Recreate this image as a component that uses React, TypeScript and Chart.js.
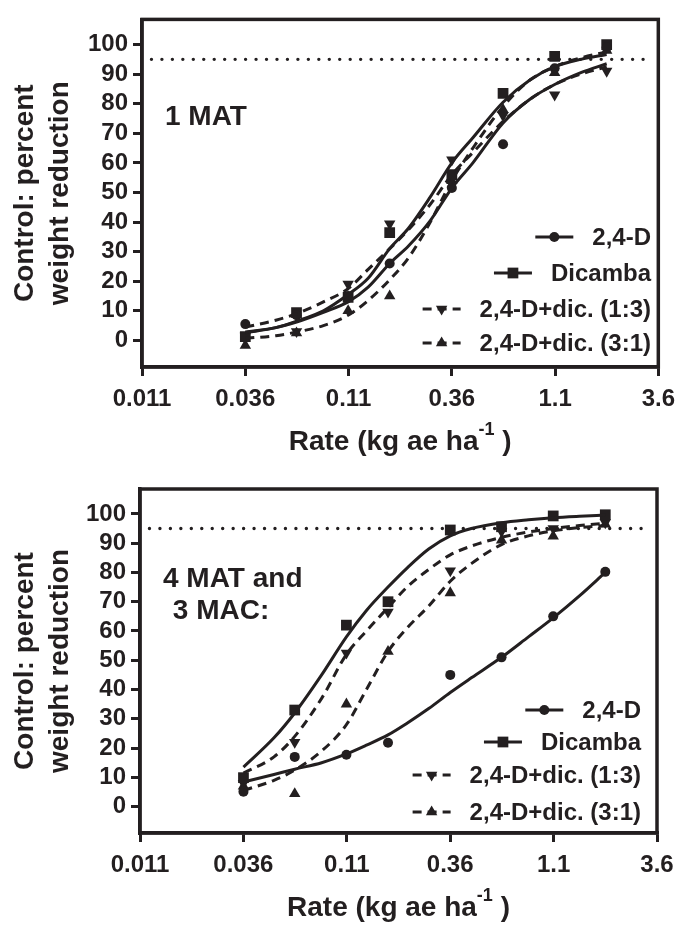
import React, { useEffect, useRef } from 'react';
import { Chart, registerables } from 'chart.js';

Chart.register(...registerables);

const INK = '#231f20';
const FONT = '"Liberation Sans", Arial, Helvetica, sans-serif';

// ---- shared categories / ticks ----
const rates = [0.0356, 0.063, 0.112, 0.178, 0.356, 0.63, 1.12, 2.0];
const curveRates = [0.0356, 0.05, 0.063, 0.085, 0.112, 0.14, 0.178, 0.22, 0.28, 0.356, 0.45, 0.63, 0.85, 1.12, 1.5, 2.0];
const xTickValues = [0.01125, 0.03557, 0.1125, 0.3557, 1.125, 3.557];
const xTickLabels = ['0.011', '0.036', '0.11', '0.36', '1.1', '3.6'];
const yTickValues = [0, 10, 20, 30, 40, 50, 60, 70, 80, 90, 100];
const seriesNames = ['2,4-D', 'Dicamba', '2,4-D+dic. (1:3)', '2,4-D+dic. (3:1)'];
const thresholdX = [0.0125, 3.2];
const thresholdY = [95, 95];
const yTitleLines = ['Control: percent', 'weight reduction'];
const xTitleMain = 'Rate (kg ae ha';
const xTitleSup = '-1';
const xTitleEnd = ' )';

// ---- panel 1: 1 MAT ----
const p1Label = ['1 MAT'];
const p1Pts24D = [5.5, 8.5, 15, 26, 51.5, 66.3, 92, 99];
const p1PtsDic = [1.3, 9.4, 14.5, 36.4, 56, 83.5, 96, 100];
const p1Pts13 = [1.5, 3, 19, 39.4, 61, 76, 83, 91];
const p1Pts31 = [-1.7, 2.5, 10, 15, 54, 78, 90.5, 98];
const p1Fit24D = [2.8, 4.3, 6.2, 9.5, 13, 18, 26, 32, 40.5, 51.5, 60, 73.5, 81.5, 86.5, 90.5, 93.5];
const p1FitDic = [2.6, 4.3, 6.5, 10, 15.5, 21, 31, 38, 48.5, 60, 68.5, 80.5, 88, 92.5, 95, 96.6];
const p1Fit13 = [4.5, 6.8, 9, 13, 17.5, 24, 31, 37.5, 46, 56, 63.5, 74, 81.5, 86.5, 90, 92.5];
const p1Fit31 = [0.7, 1.6, 2.8, 5, 8.5, 13.5, 20.5, 28, 40, 54, 65, 79, 88, 92.5, 95.5, 97.5];

// ---- panel 2: 4 MAT and 3 MAC ----
const p2Label = ['4 MAT and', ' 3 MAC:'];
const p2Pts24D = [5.1, 17, 17.7, 21.8, 45, 51, 65, 80.2];
const p2PtsDic = [9.9, 33, 62, 70, 94.5, 95.6, 99.3, 99.7];
const p2Pts13 = [8, 22, 52.5, 66.5, 80.6, 94, 95, 97];
const p2Pts31 = [7, 4.4, 35, 53, 73, 91, 92.4, 96.5];
const p2Fit24D = [8.4, 11, 12.8, 15, 18, 21, 24.5, 28.5, 33.5, 39, 44, 51, 58, 64.5, 72, 80];
const p2FitDic = [13.5, 23.5, 32, 45, 58, 67, 75, 81.5, 88, 92.5, 95, 97, 98, 98.7, 99.2, 99.6];
const p2Fit13 = [11.5, 17, 24, 37, 52, 60, 68, 75, 81, 86, 89, 92, 93.8, 95, 96, 96.8];
const p2Fit31 = [5.5, 9, 12.5, 19, 28, 40, 53, 61, 68.5, 77, 83, 89.5, 92.5, 94.2, 95.3, 96];

// ---- styling (not data) ----
const W = 684;
const markerStyles = [
  { style: 'circle', radius: 5, rotation: 0 },
  { style: 'rect', radius: 7.6, rotation: 0 },
  { style: 'triangle', radius: 6.6, rotation: 180 },
  { style: 'triangle', radius: 6.6, rotation: 0 },
];
const lineDashes = [[], [], [9, 6], [9, 6]];

type Spec = {
  height: number;
  area: { left: number; top: number; right: number; bottom: number };
  label: string[];
  labelX: number[];
  labelY: number[];
  legendRight: number;
  legendRows: number[];
  pts: number[][];
  fits: number[][];
};

const panels: Spec[] = [
  {
    height: 463,
    area: { left: 142, top: 17, right: 664, bottom: 367 },
    label: p1Label,
    labelX: [165],
    labelY: [125],
    legendRight: 651,
    legendRows: [237, 273, 309, 343],
    pts: [p1Pts24D, p1PtsDic, p1Pts13, p1Pts31],
    fits: [p1Fit24D, p1FitDic, p1Fit13, p1Fit31],
  },
  {
    height: 464,
    area: { left: 140, top: 26, right: 657, bottom: 370 },
    label: p2Label,
    labelX: [163, 165],
    labelY: [124, 156],
    legendRight: 641,
    legendRows: [247, 279, 312, 349],
    pts: [p2Pts24D, p2PtsDic, p2Pts13, p2Pts31],
    fits: [p2Fit24D, p2FitDic, p2Fit13, p2Fit31],
  },
];

function drawMarker(ctx: CanvasRenderingContext2D, style: string, x: number, y: number, r: number, rotation: number) {
  ctx.beginPath();
  if (style === 'circle') {
    ctx.arc(x, y, r, 0, Math.PI * 2);
  } else if (style === 'rect') {
    const s = Math.SQRT1_2 * r;
    ctx.rect(x - s, y - s, 2 * s, 2 * s);
  } else {
    let rad = (rotation * Math.PI) / 180;
    for (let i = 0; i < 3; i++) {
      const px = x + Math.sin(rad) * r;
      const py = y - Math.cos(rad) * r;
      if (i === 0) ctx.moveTo(px, py);
      else ctx.lineTo(px, py);
      rad += (2 * Math.PI) / 3;
    }
    ctx.closePath();
  }
  ctx.fill();
}

function buildConfig(spec: Spec): any {
  const { area, height } = spec;
  const tickFont = { family: FONT, size: 24, weight: 'bold' as const };
  const datasets: any[] = [];

  datasets.push({
    label: 'threshold',
    data: thresholdX.map((x, i) => ({ x, y: thresholdY[i] })),
    borderColor: INK,
    borderWidth: 3.4,
    borderDash: [0.01, 10.45],
    borderCapStyle: 'round',
    pointRadius: 0,
    fill: false,
  });

  spec.fits.forEach((vals, s) => {
    datasets.push({
      label: seriesNames[s] + ' fit',
      data: curveRates.map((x, i) => ({ x, y: vals[i] })),
      borderColor: INK,
      borderWidth: 3,
      borderDash: lineDashes[s],
      pointRadius: 0,
      cubicInterpolationMode: 'monotone',
      fill: false,
    });
  });

  spec.pts.forEach((vals, s) => {
    const m = markerStyles[s];
    datasets.push({
      label: seriesNames[s],
      data: rates.map((x, i) => ({ x, y: vals[i] })),
      showLine: false,
      pointStyle: m.style,
      pointRadius: m.radius,
      pointRotation: m.rotation,
      pointBackgroundColor: INK,
      pointBorderWidth: 0,
      borderColor: INK,
    });
  });

  const decor = {
    id: 'decor',
    afterDraw(chart: any) {
      const ctx: CanvasRenderingContext2D = chart.ctx;
      const ca = chart.chartArea;
      ctx.save();
      // frame
      ctx.strokeStyle = INK;
      ctx.lineWidth = 3.5;
      ctx.strokeRect(ca.left, ca.top, ca.right - ca.left, ca.bottom - ca.top);

      ctx.fillStyle = INK;
      // y title
      const cy = (ca.top + ca.bottom) / 2;
      ctx.font = `bold 28px ${FONT}`;
      ctx.textAlign = 'center';
      ctx.textBaseline = 'alphabetic';
      const yBase = [33, 68];
      yTitleLines.forEach((line, i) => {
        ctx.save();
        ctx.translate(yBase[i], cy);
        ctx.rotate(-Math.PI / 2);
        ctx.fillText(line, 0, 0);
        ctx.restore();
      });

      // x title with superscript
      const mainFont = `bold 28px ${FONT}`;
      const supFont = `bold 18px ${FONT}`;
      ctx.font = mainFont;
      const w1 = ctx.measureText(xTitleMain).width;
      const w3 = ctx.measureText(xTitleEnd).width;
      ctx.font = supFont;
      const w2 = ctx.measureText(xTitleSup).width;
      const total = w1 + w2 + w3;
      let x0 = (ca.left + ca.right) / 2 - total / 2;
      const base = ca.bottom + 83;
      ctx.textAlign = 'left';
      ctx.font = mainFont;
      ctx.fillText(xTitleMain, x0, base);
      ctx.font = supFont;
      ctx.fillText(xTitleSup, x0 + w1, base - 15);
      ctx.font = mainFont;
      ctx.fillText(xTitleEnd, x0 + w1 + w2, base);

      // panel label
      ctx.font = `bold 28px ${FONT}`;
      spec.label.forEach((line, i) => {
        ctx.fillText(line, spec.labelX[i], spec.labelY[i]);
      });

      // legend
      ctx.font = `bold 24px ${FONT}`;
      ctx.textBaseline = 'middle';
      seriesNames.forEach((name, s) => {
        const yRow = spec.legendRows[s];
        const tw = ctx.measureText(name).width;
        const tx = spec.legendRight - tw;
        const sx = tx - 38;
        ctx.fillText(name, tx, yRow + 1);
        ctx.save();
        ctx.lineWidth = 3;
        ctx.setLineDash(lineDashes[s]);
        ctx.beginPath();
        ctx.moveTo(sx - 19, yRow);
        ctx.lineTo(sx + 19, yRow);
        ctx.stroke();
        ctx.restore();
        const m = markerStyles[s];
        drawMarker(ctx, m.style, sx, yRow, m.radius, m.rotation);
      });
      ctx.restore();
    },
  };

  return {
    type: 'line',
    data: { datasets },
    plugins: [decor],
    options: {
      animation: false,
      responsive: false,
      maintainAspectRatio: false,
      parsing: true,
      layout: { padding: { left: 0, top: area.top, right: W - area.right, bottom: 0 } },
      plugins: { legend: { display: false }, tooltip: { enabled: false }, title: { display: false } },
      scales: {
        x: {
          type: 'logarithmic',
          min: xTickValues[0],
          max: xTickValues[xTickValues.length - 1],
          afterBuildTicks: (ax: any) => {
            ax.ticks = xTickValues.map((v) => ({ value: v }));
          },
          afterFit: (ax: any) => {
            ax.height = height - area.bottom;
          },
          ticks: {
            callback: (_v: any, i: number) => xTickLabels[i],
            font: tickFont,
            color: INK,
            padding: 9,
            autoSkip: false,
            maxRotation: 0,
            minRotation: 0,
          },
          grid: { drawOnChartArea: false, tickLength: 9, lineWidth: 3, color: INK },
          border: { display: true, width: 3.5, color: INK },
        },
        y: {
          type: 'linear',
          min: -9,
          max: 108.5,
          afterBuildTicks: (ax: any) => {
            ax.ticks = yTickValues.map((v) => ({ value: v }));
          },
          afterFit: (ax: any) => {
            ax.width = area.left;
          },
          ticks: { font: tickFont, color: INK, padding: 5 },
          grid: { drawOnChartArea: false, tickLength: 9, lineWidth: 3, color: INK },
          border: { display: true, width: 3.5, color: INK },
        },
      },
    },
  };
}

function Panel({ spec }: { spec: Spec }) {
  const ref = useRef<HTMLCanvasElement>(null);
  useEffect(() => {
    if (!ref.current) return;
    const chart = new Chart(ref.current, buildConfig(spec));
    return () => chart.destroy();
  }, [spec]);
  return (
    <canvas
      ref={ref}
      width={W}
      height={spec.height}
      style={{ display: 'block', width: W, height: spec.height }}
    />
  );
}

export default function App() {
  return (
    <div style={{ position: 'absolute', left: 0, top: 0, width: W, height: 927, background: '#fff' }}>
      {panels.map((p, i) => (
        <Panel key={i} spec={p} />
      ))}
    </div>
  );
}
